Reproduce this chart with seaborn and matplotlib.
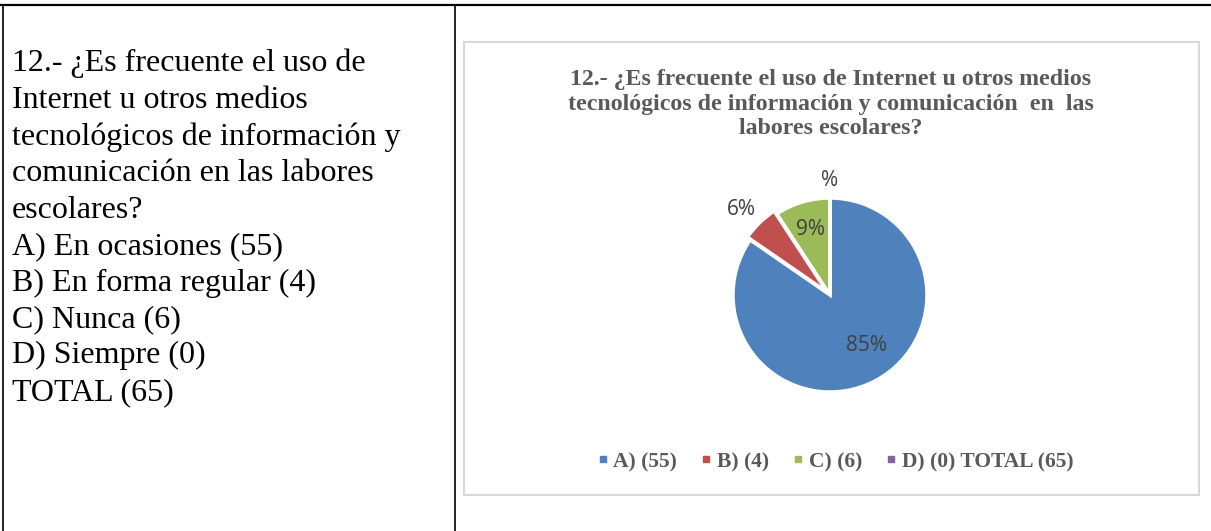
import numpy as np
import matplotlib
matplotlib.use("Agg")
import matplotlib.pyplot as plt
import seaborn as sns
from matplotlib.lines import Line2D
from matplotlib.patches import Rectangle

# ---- data ----
categories = ["A) (55)", "B) (4)", "C) (6)", "D) (0) TOTAL (65)"]
counts = [55, 4, 6, 0]
pct_labels = ["85%", "6%", "9%", "%"]
colors = ["#4F81BD", "#C0504D", "#9BBB59", "#8064A2"]
question_lines = [
    "12.- ¿Es frecuente el uso de",
    "Internet u otros medios",
    "tecnológicos de información y",
    "comunicación en las labores",
    "escolares?",
    "A) En ocasiones (55)",
    "B) En forma regular (4)",
    "C) Nunca (6)",
    "D) Siempre (0)",
    "TOTAL (65)",
]
chart_title = ("12.- ¿Es frecuente el uso de Internet u otros medios\n"
               "tecnológicos de información y comunicación  en  las\n"
               "labores escolares?")

sns.set_theme(style="white")
plt.rcParams["font.family"] = ["Liberation Serif", "DejaVu Serif"]

W, H = 1211, 531
fig = plt.figure(figsize=(W / 100, H / 100), dpi=100)
fig.patch.set_facecolor("white")

def fx(px):
    return px / W

def fy(py):
    return 1 - py / H

# table lines
fig.add_artist(Line2D([0, 1], [fy(5), fy(5)], color="black", lw=1.6))
fig.add_artist(Line2D([fx(3), fx(3)], [fy(5), 0], color="black", lw=1.2))
fig.add_artist(Line2D([fx(455), fx(455)], [fy(5), 0], color="black", lw=1.2))

# left text
fig.text(fx(12), fy(49), "\n".join(question_lines), ha="left", va="top",
         fontsize=23, color="black", linespacing=1.335,
         family="Liberation Serif")

# chart border
fig.add_artist(Rectangle((fx(464), fy(495)), fx(1199) - fx(464), fy(42) - fy(495),
                         fill=False, edgecolor="#D9D9D9", lw=1.5))

# chart title
fig.text(fx(831), fy(69), chart_title, ha="center", va="top", fontsize=17.2,
         fontweight="bold", color="#595959", linespacing=1.22,
         family="Liberation Serif")

# pie axes
R = 97.0
half = 150.0
cx, cy = 830, 295
ax = fig.add_axes([fx(cx - half), fy(cy + half), 2 * half / W, 2 * half / H])
explode = [0.0, 0.04, 0.0, 0.0]
wedges, _ = ax.pie(counts, colors=colors, startangle=90, counterclock=False,
                   explode=explode, radius=1.0,
                   wedgeprops=dict(edgecolor="white", linewidth=2.5))
lim = half / R
ax.set_xlim(-lim, lim)
ax.set_ylim(-lim, lim)
ax.set_aspect("equal")
ax.axis("off")

dists = [0.645, 1.27, 0.70, 1.18]
ang_shift = [8, 2, 0, 0]
for w, lab, d, s in zip(wedges, pct_labels, dists, ang_shift):
    ang = np.deg2rad((w.theta1 + w.theta2) / 2 + s)
    ax.text(d * np.cos(ang), d * np.sin(ang), lab, ha="center", va="center",
            fontsize=15, color="#404040", family="Open Sans")

# legend
handles = [Line2D([0], [0], marker="s", linestyle="none", markersize=5,
                  markerfacecolor=c, markeredgecolor=c) for c in colors]
leg = fig.legend(handles, categories, loc="center", bbox_to_anchor=(fx(835), fy(462)),
                 ncol=4, frameon=False, handlelength=0.6, handletextpad=0.2,
                 columnspacing=1.05,
                 prop=dict(family="Liberation Serif", weight="bold", size=15.5))
for t in leg.get_texts():
    t.set_color("#595959")

fig.savefig("out.png", dpi=100, facecolor="white")
